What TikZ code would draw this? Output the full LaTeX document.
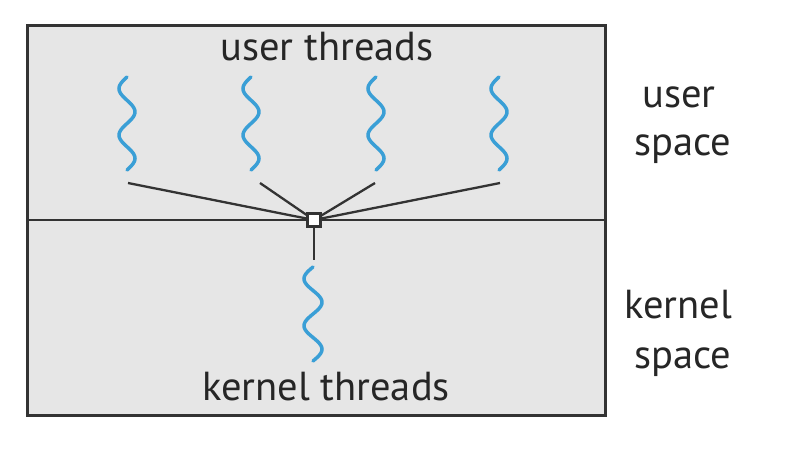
\documentclass[tikz,border=0pt]{standalone}
\usepackage{fontspec}
\setmainfont{PT Sans}
\definecolor{boxfill}{HTML}{E6E6E6}
\definecolor{edge}{HTML}{333333}
\definecolor{wave}{HTML}{3A9FD6}
\newcommand\threadwave[4]{% xc, ytop, ybottom, amp
  \draw[wavestyle] plot[domain=0:720,samples=80] ({#1-#4*sin(\x)},{#2+(#3-#2)*(\x/720)});}
\begin{document}
\begin{tikzpicture}[x=1pt,y=-1pt,
  wavestyle/.style={draw=wave,line width=3.5pt,line cap=round,smooth},
  conn/.style={draw=edge,line width=2.3pt},
  sqbox/.style={draw=edge,line width=2.3pt,fill=white,minimum size=13pt,inner sep=0pt},
  lbl/.style={font=\fontsize{40.5}{42}\selectfont,text=black!85,anchor=base,inner sep=0pt}]
\fill[white] (0,0) rectangle (804,456);
\useasboundingbox (0,0) rectangle (804,456);
\draw[edge,line width=3pt,fill=boxfill] (27,25) rectangle (605,415);
\draw[conn] (27,220) -- (605,220);
% user threads
\threadwave{127}{77}{170}{8}
\threadwave{251}{77}{170}{8}
\threadwave{376}{77}{170}{8}
\threadwave{499}{77}{170}{8}
% kernel thread
\threadwave{313}{267}{361}{9}
\coordinate (u1) at (128,183);
\coordinate (u2) at (260,183);
\coordinate (u3) at (375,183);
\coordinate (u4) at (500,183);
\coordinate (k1) at (314,260);
\node[sqbox] (sq) at (314,220) {};
\draw[conn] (u1) -- (sq.center);
\draw[conn] (u2) -- (sq.center);
\draw[conn] (u3) -- (sq.center);
\draw[conn] (u4) -- (sq.center);
\draw[conn] (sq.south) -- (k1);
\node[sqbox] (sqtop) at (sq) {};
% labels
\node[lbl] (ut) at (327,60) {user threads};
\node[lbl] (kt) at (326,400) {kernel threads};
\node[lbl] (us1) at (679,107) {user};
\node[lbl] (us2) at (683,155) {space};
\node[lbl] (ks1) at (678,318) {kernel};
\node[lbl] (ks2) at (683,368) {space};
\end{tikzpicture}
\end{document}
